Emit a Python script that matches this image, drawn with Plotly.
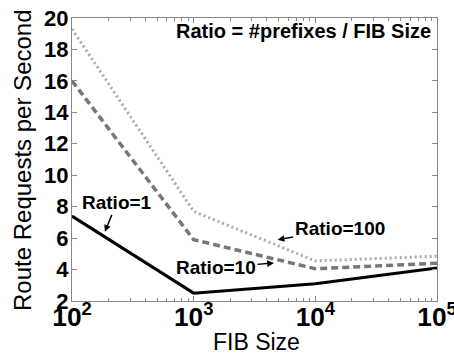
import plotly.graph_objects as go

fib_size = [100, 1000, 10000, 100000]
ratio1 = [7.4, 2.5, 3.1, 4.1]
ratio10 = [16.0, 5.9, 4.05, 4.4]
ratio100 = [19.3, 7.7, 4.55, 4.85]

FONT = "Liberation Sans, Arial"

fig = go.Figure()
fig.add_trace(go.Scatter(x=fib_size, y=ratio100, mode="lines",
                         line=dict(color="#aaaaaa", width=3, dash="2px,3px")))
fig.add_trace(go.Scatter(x=fib_size, y=ratio10, mode="lines",
                         line=dict(color="#777777", width=3.5, dash="7px,4px")))
fig.add_trace(go.Scatter(x=fib_size, y=ratio1, mode="lines",
                         line=dict(color="black", width=3)))

lab = dict(family=FONT, size=19, color="black")
arr = dict(showarrow=True, arrowhead=2, arrowsize=0.9, arrowwidth=1.5, arrowcolor="black")

pw, ph = 454 - 72 - 17, 356 - 18 - 55

fig.add_annotation(x=(433 - 72) / pw, y=(301 - 31) / ph, xref="paper", yref="paper",
                   xanchor="right", yanchor="middle",
                   text="<b>Ratio = #prefixes / FIB Size</b>", showarrow=False,
                   font=dict(family=FONT, size=20, color="black"))
fig.add_annotation(x=2.27, y=6.4, xref="x", yref="y", text="<b>Ratio=1</b>",
                   ax=12, ay=-29, font=lab, **arr)
fig.add_annotation(x=3.69, y=5.9, xref="x", yref="y", text="<b>Ratio=100</b>",
                   ax=62, ay=-11, font=lab, **arr)
fig.add_annotation(x=3.66, y=4.42, xref="x", yref="y", text="<b>Ratio=10</b>",
                   ax=-58, ay=5, font=lab, **arr)

# axis titles (pixel positions converted to paper coordinates)
fig.add_annotation(x=(256 - 72) / pw, y=(301 - 342) / ph, xref="paper", yref="paper",
                   text="FIB Size", showarrow=False, xanchor="center", yanchor="middle",
                   font=dict(family=FONT, size=23, color="black"))
fig.add_annotation(x=(22 - 72) / pw, y=(301 - 160) / ph, xref="paper", yref="paper",
                   text="Route Requests per Second", showarrow=False, textangle=-90,
                   xanchor="center", yanchor="middle",
                   font=dict(family=FONT, size=24, color="black"))

axis_common = dict(showline=True, linecolor="#888888", linewidth=1, mirror="ticks",
                   ticks="inside", tickcolor="#888888", ticklen=5, showgrid=False, zeroline=False,
                   automargin=False, ticklabeloverflow="allow")

fig.update_xaxes(type="log", range=[2, 5], dtick=1, exponentformat="power",
                 tickfont=dict(family=FONT, size=21, color="black", weight="bold"),
                 ticklabelstandoff=-6,
                 minor=dict(ticks="inside", ticklen=3, tickcolor="#888888", dtick="D1"),
                 **axis_common)
fig.update_yaxes(range=[2, 20], dtick=2, tickprefix="<b>", ticksuffix="</b>",
                 tickfont=dict(family=FONT, size=22, color="black", weight="bold"),
                 ticklabelstandoff=-2,
                 **axis_common)

fig.update_layout(width=454, height=356, margin=dict(l=72, r=17, t=18, b=55),
                  plot_bgcolor="white", paper_bgcolor="white", showlegend=False)

fig.write_html("out.html")
